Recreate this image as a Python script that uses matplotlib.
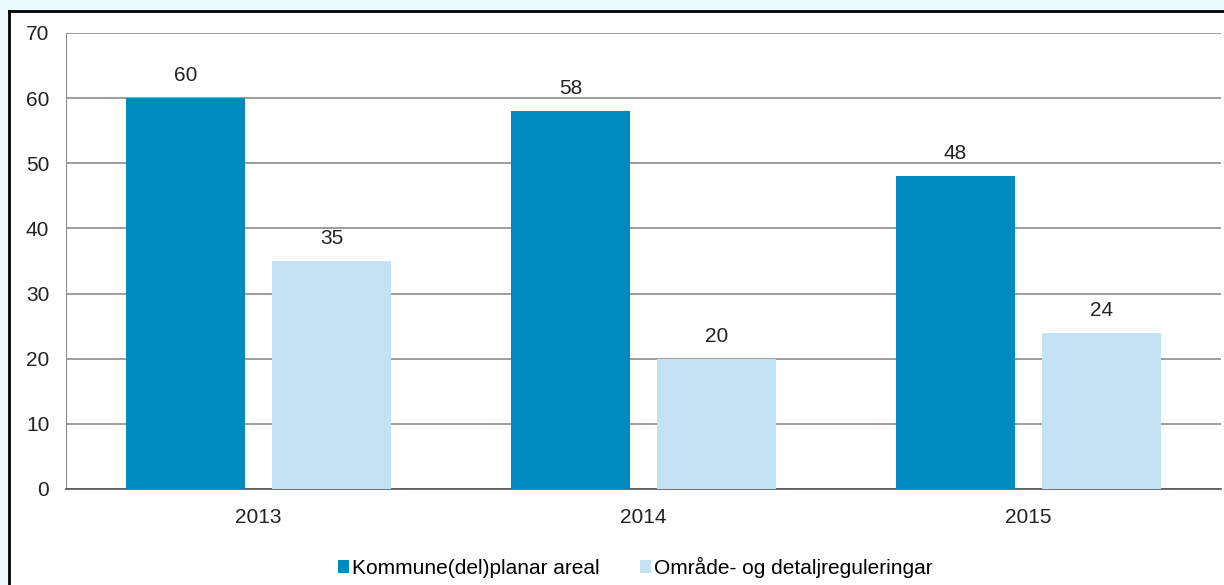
import matplotlib.pyplot as plt
import numpy as np
from matplotlib.patches import Rectangle
from matplotlib.lines import Line2D

years = ['2013', '2014', '2015']
kommuneplan = [60, 58, 48]
regulering = [35, 20, 24]
labels = ['Kommune(del)planar areal', 'Område- og detaljreguleringar']

dark = '#008bc0'
light = '#c3e2f4'

plt.rcParams['font.family'] = ['Liberation Sans', 'DejaVu Sans']

fig = plt.figure(figsize=(12.24, 5.85), dpi=100)
ax = fig.add_axes([66 / 1224, 1 - 489 / 585, 1155 / 1224, 456 / 585])

x = np.arange(len(years))
w = 0.309
b1 = ax.bar(x - 0.19, kommuneplan, w, color=dark, label=labels[0], zorder=3)
b2 = ax.bar(x + 0.19, regulering, w, color=light, label=labels[1], zorder=3)

for bars in (b1, b2):
    for r in bars:
        ax.text(r.get_x() + r.get_width() / 2, r.get_height() + 2.0, f'{r.get_height():.0f}',
                ha='center', va='bottom', fontsize=15, color='#222222')

ax.set_xlim(-0.5, 2.5)
ax.set_ylim(0, 70)
ax.set_yticks(range(0, 71, 10))
ax.set_xticks(x)
ax.set_xticklabels(years)
ax.tick_params(axis='both', length=0, labelsize=15, colors='#222222')
ax.tick_params(axis='y', pad=12)
ax.tick_params(axis='x', pad=14)
ax.yaxis.grid(True, color='#8c8c8c', linewidth=1.2, zorder=0)
for s in ('top', 'right'):
    ax.spines[s].set_visible(False)
ax.spines['left'].set_color('#8c8c8c')
ax.spines['bottom'].set_color('#555555')
ax.spines['bottom'].set_linewidth(1.2)

ax.legend(loc='upper center', bbox_to_anchor=(0.493, -0.107), ncol=2, frameon=False,
          fontsize=15, handlelength=0.55, handleheight=0.55, handletextpad=0.15,
          columnspacing=1.9)

# frame strip from the source page
fig.patches.append(Rectangle((0, 0), 8 / 1224, 1, transform=fig.transFigure,
                             color='#ecfcfd', zorder=0))
fig.patches.append(Rectangle((0, 1 - 10 / 585), 1, 10 / 585, transform=fig.transFigure,
                             color='#ecfcfd', zorder=0))
fig.lines.append(Line2D([9 / 1224, 9 / 1224], [0, 1 - 11 / 585], transform=fig.transFigure,
                        color='black', linewidth=2))
fig.lines.append(Line2D([9 / 1224, 1], [1 - 11 / 585, 1 - 11 / 585], transform=fig.transFigure,
                        color='black', linewidth=2))

fig.savefig('out.png', dpi=100)
